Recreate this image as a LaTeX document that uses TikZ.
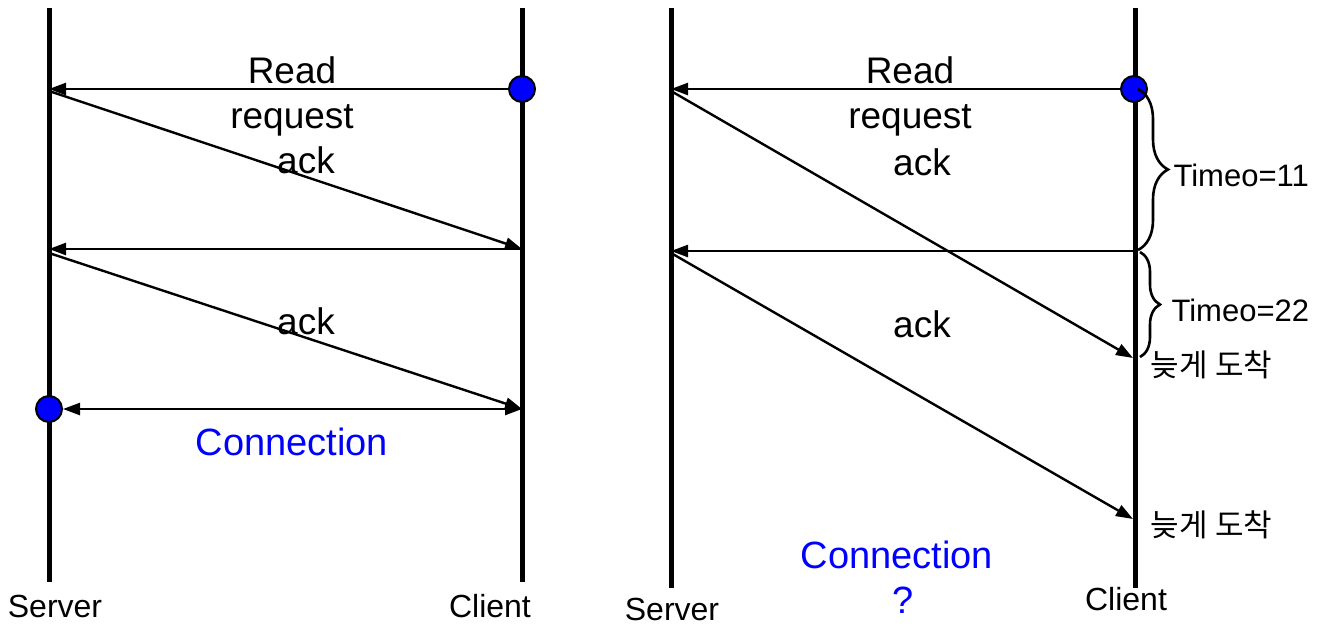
\documentclass[tikz,border=0pt]{standalone}
\usepackage{fontspec}
\setmainfont{Liberation Sans}
\newfontfamily\krfont{Noto Sans CJK KR}
\usetikzlibrary{arrows.meta,decorations.pathreplacing}

\begin{document}
\begin{tikzpicture}[x=1pt,y=-1pt,
  life/.style={line width=5pt},
  msg/.style={line width=2.4pt,-{Triangle[length=17pt,width=12pt]}},
  msgboth/.style={line width=2.4pt,{Triangle[length=17pt,width=12pt]}-{Triangle[length=17pt,width=12pt]}},
  dot/.style={circle,draw,fill=blue,line width=2pt,minimum size=26pt,inner sep=0pt},
  big/.style={font=\fontsize{37}{44}\selectfont,anchor=base},
  blu/.style={font=\fontsize{38}{44}\selectfont,anchor=base,text=blue},
  role/.style={font=\fontsize{32}{38}\selectfont,anchor=base},
  note/.style={font=\krfont\fontsize{31}{36}\selectfont,anchor=west},
  timeo/.style={font=\fontsize{31}{36}\selectfont,anchor=base west},
  curly/.style={line width=2.6pt,decorate,decoration={brace,amplitude=#1}}
]
\useasboundingbox (0,0) rectangle (1323,625);

% ---------------- left: normal exchange ----------------
\coordinate (lsT) at (49,8);   \coordinate (lsB) at (49,582);
\coordinate (lcT) at (522,8);  \coordinate (lcB) at (522,582);
\draw[life] (lsT) -- (lsB);
\draw[life] (lcT) -- (lcB);

\node[dot] (lreq) at (522,89) {};
\node[dot] (lcon) at (49,409) {};
\coordinate (ls1) at (49,89);
\coordinate (ls1b) at (49,91);
\coordinate (lc2) at (522,249);
\coordinate (ls2) at (49,249);
\coordinate (ls2b) at (49,253);
\coordinate (lc3) at (522,409);

\draw[msg] (lreq) -- (ls1);
\draw[msg] (ls1b) -- (lc2);
\draw[msg] (lc2) -- (ls2);
\draw[msg] (ls2b) -- (lc3);
\draw[msgboth] (lcon) -- (lc3);

\node[big] (lt1) at (292,83) {Read};
\node[big] (lt2) at (292,128) {request};
\node[big] (lt3) at (306,173) {ack};
\node[big] (lt4) at (306,334) {ack};
\node[blu] (lt5) at (292,455) {Connection};
\node[role] (lsv) at (55,617) {Server};
\node[role] (lcl) at (490,617) {Client};

% ---------------- right: timeout and late arrivals ----------------
\coordinate (rsT) at (671,8);   \coordinate (rsB) at (671,588);
\coordinate (rcT) at (1135,8);  \coordinate (rcB) at (1135,588);
\draw[life] (rsT) -- (rsB);
\draw[life] (rcT) -- (rcB);

\node[dot] (rreq) at (1134,89) {};
\coordinate (rs1) at (671,89);
\coordinate (rs1b) at (671,91);
\coordinate (rc2) at (1135,251);
\coordinate (rs2) at (671,251);
\coordinate (rs2b) at (671,253);
\coordinate (rc3) at (1133,358);
\coordinate (rc4) at (1133,519);

\draw[msg] (rreq) -- (rs1);
\draw[msg] (rs1b) -- (rc3);
\draw[msg] (rc2) -- (rs2);
\draw[msg] (rs2b) -- (rc4);

\coordinate (b1a) at (1138,89);  \coordinate (b1b) at (1138,250);
\coordinate (b2a) at (1140,252); \coordinate (b2b) at (1140,357);
\draw[curly=30pt] (b1a) -- (b1b);
\draw[curly=20pt] (b2a) -- (b2b);

\node[big] (rt1) at (910,83) {Read};
\node[big] (rt2) at (910,128) {request};
\node[big] (rt3) at (922,175) {ack};
\node[big] (rt4) at (922,337) {ack};
\node[blu] (rt5) at (897,568) {Connection};
\node[blu] (rt6) at (903,613) {?};
\node[role] (rsv) at (672,620) {Server};
\node[role] (rcl) at (1126,610) {Client};

\node[timeo] (to1) at (1170,186) {Timeo=11};
\node[timeo] (to2) at (1168,321) {Timeo=22};
\node[note] (late1) at (1147,365) {늦게\hspace{0.25em}도착};
\node[note] (late2) at (1147,525) {늦게\hspace{0.25em}도착};
\end{tikzpicture}
\end{document}
